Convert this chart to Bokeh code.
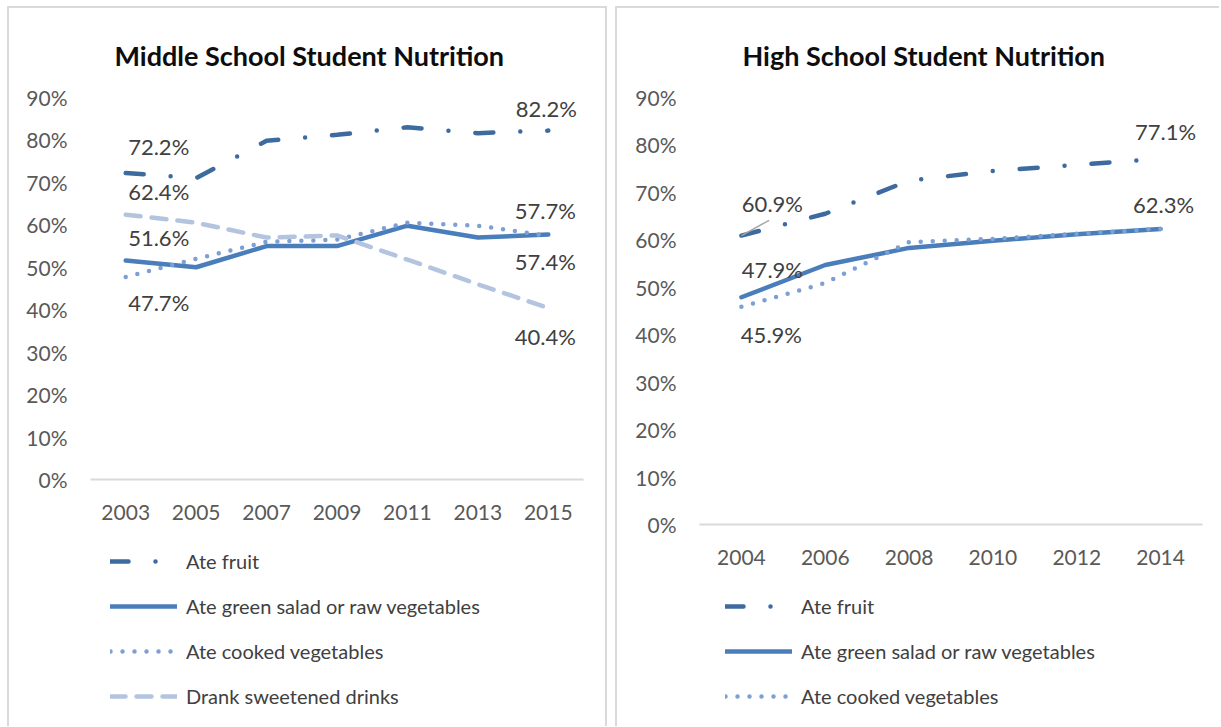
from bokeh.plotting import figure
from bokeh.models import Range1d, FixedTicker, Legend, LegendItem, ColumnDataSource, Spacer
from bokeh.layouts import row, column
from bokeh.embed import file_html
from bokeh.resources import INLINE
from bokeh.core.properties import value

# ---------------- data ----------------
ms_years = ["2003", "2005", "2007", "2009", "2011", "2013", "2015"]
ms_fruit = [72.2, 71.0, 79.8, 81.2, 83.0, 81.6, 82.2]
ms_salad = [51.6, 50.0, 55.0, 55.0, 59.8, 57.0, 57.7]
ms_cooked = [47.7, 52.0, 56.0, 56.5, 60.5, 59.8, 57.4]
ms_drinks = [62.4, 60.5, 57.0, 57.5, 51.8, 46.0, 40.4]

hs_years = ["2004", "2006", "2008", "2010", "2012", "2014"]
hs_fruit = [60.9, 65.5, 72.5, 74.5, 75.8, 77.1]
hs_salad = [47.9, 54.7, 58.3, 59.8, 61.2, 62.3]
hs_cooked = [45.9, 50.9, 59.5, 60.2, 61.3, 62.3]

y_ticks = [0, 10, 20, 30, 40, 50, 60, 70, 80, 90]
y_tick_labels = ["0%", "10%", "20%", "30%", "40%", "50%", "60%", "70%", "80%", "90%"]

series_names = ["Ate fruit", "Ate green salad or raw vegetables",
                "Ate cooked vegetables", "Drank sweetened drinks"]

# ---------------- styles ----------------
FONT = "Lato"
STYLE = {
    "Ate fruit": dict(color="#3d6a9f", dash="18 27 0 27"),
    "Ate green salad or raw vegetables": dict(color="#4a7ebb", dash="solid"),
    "Ate cooked vegetables": dict(color="#7d9fd3", dash="0 12"),
    "Drank sweetened drinks": dict(color="#b3c4df", dash="15 11"),
}
LW = 4.5
TICK_COLOR = "#595959"
LABEL_COLOR = "#404040"
BORDER = "2px solid #d9d9d9"
LEG_ITEM_H = 26
LEG_SPACING = 19


def line_kw(name):
    st = STYLE[name]
    return dict(line_color=st["color"], line_width=LW, line_dash=st["dash"],
                line_cap="round", line_join="round")


def make_chart(title, years, series, labels, width, height, mb_left, mb_right,
               mb_top, mb_bottom, title_offset, css, leader=None):
    n = len(years)
    p = figure(width=width, height=height, output_backend="svg", toolbar_location=None,
               x_range=Range1d(-0.5, n - 0.5), y_range=Range1d(0, 90),
               min_border_left=mb_left, min_border_right=mb_right,
               min_border_top=mb_top, min_border_bottom=mb_bottom,
               title=title)
    p.styles = css
    p.background_fill_color = "white"
    p.border_fill_color = "white"
    p.outline_line_color = None
    p.xgrid.visible = False
    p.ygrid.visible = False

    p.title.align = "left"
    p.title.offset = title_offset
    p.title.standoff = 52
    p.title.text_font = FONT
    p.title.text_font_style = "bold"
    p.title.text_font_size = "27px"
    p.title.text_color = "#0d0d0d"

    xa = p.xaxis[0]
    xa.ticker = FixedTicker(ticks=list(range(n)))
    xa.major_label_overrides = {i: y for i, y in enumerate(years)}
    xa.axis_line_color = "#d9d9d9"
    xa.axis_line_width = 2
    xa.major_tick_line_color = None
    xa.minor_tick_line_color = None
    xa.major_label_standoff = 19
    xa.major_label_text_font = FONT
    xa.major_label_text_font_size = "21px"
    xa.major_label_text_color = TICK_COLOR

    ya = p.yaxis[0]
    ya.ticker = FixedTicker(ticks=y_ticks)
    ya.major_label_overrides = {t: l for t, l in zip(y_ticks, y_tick_labels)}
    ya.axis_line_color = None
    ya.major_tick_line_color = None
    ya.minor_tick_line_color = None
    ya.major_label_standoff = 17
    ya.major_label_text_font = FONT
    ya.major_label_text_font_size = "21px"
    ya.major_label_text_color = TICK_COLOR

    xs = list(range(n))
    for name, vals in series:
        p.line(xs, vals, **line_kw(name))

    if leader is not None:
        i, v, dx, dy = leader
        p.segment(x0=[i], y0=[v], x1=[i + dx], y1=[v + dy],
                  line_color="#a6a6a6", line_width=1.5)

    lx, ly, lt, lxo, lyo = [], [], [], [], []
    for (vals, idx, xo, yo) in labels:
        lx.append(idx)
        ly.append(vals[idx])
        lt.append(f"{vals[idx]:.1f}%")
        lxo.append(xo)
        lyo.append(yo)
    src = ColumnDataSource(dict(x=lx, y=ly, t=lt, xo=lxo, yo=lyo))
    p.text(x="x", y="y", text="t", x_offset="xo", y_offset="yo", source=src,
           text_align="center", text_baseline="middle",
           text_font=value(FONT), text_font_size="22px", text_color=LABEL_COLOR)
    return p


def make_legend(series, width, height, leg_x, leg_y, css):
    # the series lines are drawn outside this figure's visible range; only the legend shows
    p = figure(width=width, height=height, output_backend="svg", toolbar_location=None,
               x_range=Range1d(0, 1), y_range=Range1d(-20, -10),
               x_axis_location=None, y_axis_location=None,
               min_border_left=0, min_border_right=0, min_border_top=0, min_border_bottom=0)
    p.title.visible = False
    p.styles = css
    p.background_fill_color = "white"
    p.border_fill_color = "white"
    p.outline_line_color = None
    p.xgrid.visible = False
    p.ygrid.visible = False
    items = []
    for name, vals in series:
        r = p.line(list(range(len(vals))), vals, **line_kw(name))
        items.append(LegendItem(label=name, renderers=[r]))
    leg = Legend(items=items, location=(leg_x, leg_y), orientation="vertical")
    leg.margin = 0
    leg.padding = 0
    leg.spacing = LEG_SPACING
    leg.glyph_width = 67
    leg.glyph_height = LEG_ITEM_H
    leg.label_height = LEG_ITEM_H
    leg.label_standoff = 9
    leg.label_text_font = FONT
    leg.label_text_font_size = "20px"
    leg.label_text_color = LABEL_COLOR
    leg.border_line_color = None
    leg.background_fill_alpha = 0
    p.add_layout(leg)
    return p


ms_series = list(zip(series_names, [ms_fruit, ms_salad, ms_cooked, ms_drinks]))
hs_series = list(zip(series_names[:3], [hs_fruit, hs_salad, hs_cooked]))

last_ms = len(ms_years) - 1
ms_labels = [
    (ms_fruit, 0, 33, -27), (ms_drinks, 0, 33, -23), (ms_salad, 0, 33, -23),
    (ms_cooked, 0, 33, 25),
    (ms_fruit, last_ms, -2, -22), (ms_salad, last_ms, -3, -24),
    (ms_cooked, last_ms, -3, 26), (ms_drinks, last_ms, -3, 28),
]
last_hs = len(hs_years) - 1
hs_labels = [
    (hs_fruit, 0, 31, -32), (hs_salad, 0, 31, -28), (hs_cooked, 0, 30, 28),
    (hs_fruit, last_hs, 5, -27), (hs_salad, last_hs, 3, -24),
]

left_chart = make_chart("Middle School Student Nutrition", ms_years, ms_series, ms_labels,
                        width=600, height=524, mb_left=81, mb_right=26, mb_top=89,
                        mb_bottom=53, title_offset=24,
                        css={"border-left": BORDER, "border-top": BORDER,
                             "border-right": BORDER})
left_leg = make_legend(ms_series, width=600, height=196, leg_x=20, leg_y=17,
                       css={"border-left": BORDER, "border-right": BORDER})

right_chart = make_chart("High School Student Nutrition", hs_years, hs_series, hs_labels,
                         width=604, height=569, mb_left=82, mb_right=19, mb_top=89,
                         mb_bottom=53, title_offset=43,
                         css={"border-left": BORDER, "border-top": BORDER},
                         leader=(0, hs_fruit[0], 0.33, 3.2))
right_leg = make_legend(hs_series, width=604, height=151, leg_x=26, leg_y=17,
                        css={"border-left": BORDER})

layout = column(
    Spacer(height=6),
    row(Spacer(width=7), column(left_chart, left_leg), Spacer(width=8),
        column(right_chart, right_leg)),
)
open("out.html", "w").write(file_html(layout, INLINE))
